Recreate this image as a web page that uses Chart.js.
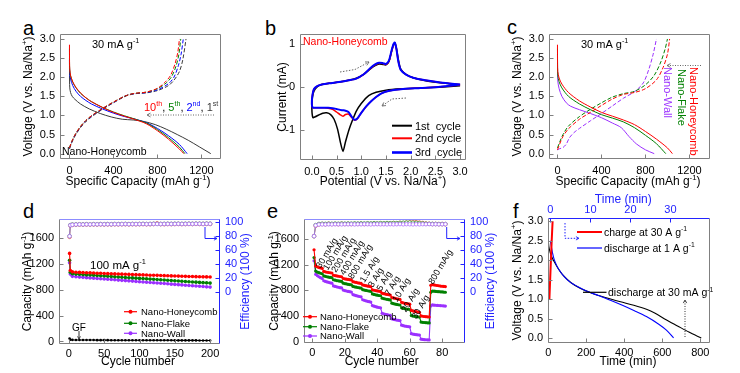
<!DOCTYPE html>
<html>
<head>
<meta charset="utf-8">
<title>Nano-Honeycomb sodium storage</title>
<script src="https://cdn.jsdelivr.net/npm/chart.js@4.4.1/dist/chart.umd.min.js"></script>
<style>
  body { margin: 0; width: 740px; height: 373px; background: #fff; position: relative; overflow: hidden; }
  canvas { position: absolute; }
  .tag { position: absolute; font: 20px 'Liberation Sans', Arial, sans-serif; line-height: 20px; color: #000; }
</style>
</head>
<body>
<div class="tag" style="left:23px;top:18px">a</div>
<div class="tag" style="left:265px;top:18px">b</div>
<div class="tag" style="left:507px;top:17px">c</div>
<div class="tag" style="left:23px;top:201px">d</div>
<div class="tag" style="left:267px;top:201px">e</div>
<div class="tag" style="left:513px;top:201px">f</div>
<canvas id="pa"></canvas>
<canvas id="pb"></canvas>
<canvas id="pc"></canvas>
<canvas id="pd"></canvas>
<canvas id="pe"></canvas>
<canvas id="pf"></canvas>
<script>
// ---------- panel a : Nano-Honeycomb, cycles 1/2/5/10 at 30 mA/g ----------
const aXTicks = [0, 400, 800, 1200];
const aYTicks = [0, 0.5, 1, 1.5, 2, 2.5, 3];
const aDis1Cap = [0, 1, 3, 10, 25, 50, 100, 180, 280, 380, 480, 580, 680, 780, 880, 980, 1080, 1180, 1285];
const aDis1V = [2.5, 1.9, 1.72, 1.6, 1.5, 1.42, 1.3, 1.17, 1.05, 0.96, 0.9, 0.88, 0.84, 0.76, 0.64, 0.5, 0.35, 0.18, 0.0];
const aDis2Cap = [0, 1, 3, 10, 30, 60, 100, 150, 200, 300, 400, 500, 600, 700, 800, 900, 1000, 1070];
const aDis2V = [2.45, 2.2, 2.08, 1.95, 1.78, 1.63, 1.5, 1.39, 1.3, 1.17, 1.06, 0.97, 0.9, 0.81, 0.66, 0.47, 0.24, 0.0];
const aDis5Cap = [0, 1, 3, 10, 30, 60, 100, 150, 200, 300, 400, 500, 600, 700, 800, 900, 1000, 1050];
const aDis5V = [2.75, 2.3, 2.17, 2.03, 1.87, 1.72, 1.58, 1.46, 1.36, 1.21, 1.09, 0.99, 0.9, 0.8, 0.63, 0.42, 0.17, 0.0];
const aDis10Cap = [0, 1, 3, 10, 30, 60, 100, 150, 200, 300, 400, 500, 600, 700, 800, 900, 1000, 1040];
const aDis10V = [2.85, 2.35, 2.2, 2.05, 1.88, 1.73, 1.59, 1.46, 1.36, 1.21, 1.08, 0.98, 0.89, 0.78, 0.6, 0.38, 0.12, 0.0];
const aChg1Cap = [0, 20, 50, 100, 150, 200, 300, 400, 500, 550, 600, 700, 800, 900, 950, 1000, 1030, 1060];
const aChg1V = [0.12, 0.28, 0.46, 0.68, 0.84, 0.96, 1.16, 1.33, 1.49, 1.54, 1.57, 1.59, 1.65, 1.78, 1.92, 2.15, 2.45, 3.0];
const aChg2Cap = [0, 20, 50, 100, 150, 200, 300, 400, 500, 550, 600, 700, 800, 900, 950, 990, 1015, 1035];
const aChg2V = [0.14, 0.3, 0.48, 0.7, 0.86, 0.98, 1.17, 1.34, 1.5, 1.55, 1.57, 1.6, 1.67, 1.83, 2.0, 2.3, 2.6, 3.0];
const aChg5Cap = [0, 20, 50, 100, 150, 200, 300, 400, 500, 550, 600, 700, 800, 880, 930, 970, 995, 1012];
const aChg5V = [0.15, 0.31, 0.49, 0.71, 0.87, 0.99, 1.18, 1.35, 1.5, 1.55, 1.58, 1.61, 1.7, 1.85, 2.02, 2.3, 2.6, 3.0];
const aChg10Cap = [0, 20, 50, 100, 150, 200, 300, 400, 500, 550, 600, 700, 800, 870, 920, 960, 985, 1000];
const aChg10V = [0.15, 0.31, 0.49, 0.71, 0.87, 0.99, 1.18, 1.35, 1.5, 1.55, 1.58, 1.61, 1.71, 1.87, 2.05, 2.35, 2.65, 3.0];

// ---------- panel b : CV of Nano-Honeycomb ----------
const bXTicks = [0, 0.5, 1, 1.5, 2, 2.5, 3];
const bYTicks = [-1, 0, 1];
const bCyc1V = [3.0, 2.6, 2.2, 1.8, 1.5, 1.3, 1.15, 1.0, 0.9, 0.82, 0.75, 0.68, 0.63, 0.58, 0.52, 0.45, 0.38, 0.3, 0.22, 0.14, 0.07, 0.02, 0.0, 0.01, 0.04, 0.1, 0.2, 0.35, 0.55, 0.75, 0.9, 1.05, 1.18, 1.28, 1.36, 1.44, 1.5, 1.56, 1.61, 1.65, 1.68, 1.71, 1.75, 1.8, 1.9, 2.05, 2.3, 2.6, 3.0];
const bCyc1I = [0.03, 0.0, -0.02, -0.04, -0.07, -0.12, -0.2, -0.38, -0.56, -0.78, -1.0, -1.28, -1.5, -1.3, -0.98, -0.75, -0.64, -0.6, -0.61, -0.65, -0.69, -0.71, -0.5, -0.25, -0.1, 0.0, 0.06, 0.09, 0.12, 0.16, 0.21, 0.3, 0.42, 0.5, 0.54, 0.53, 0.52, 0.6, 0.82, 0.98, 1.03, 0.92, 0.65, 0.42, 0.3, 0.22, 0.15, 0.1, 0.05];
const bCyc2V = [3.0, 2.6, 2.2, 1.8, 1.55, 1.4, 1.3, 1.2, 1.1, 1.0, 0.92, 0.86, 0.8, 0.74, 0.68, 0.63, 0.57, 0.5, 0.42, 0.33, 0.25, 0.15, 0.07, 0.02, 0.0, 0.01, 0.04, 0.1, 0.2, 0.35, 0.55, 0.75, 0.9, 1.05, 1.18, 1.28, 1.36, 1.44, 1.5, 1.56, 1.61, 1.65, 1.68, 1.71, 1.75, 1.8, 1.9, 2.05, 2.3, 2.6, 3.0];
const bCyc2I = [0.05, 0.01, -0.02, -0.05, -0.09, -0.15, -0.23, -0.33, -0.45, -0.6, -0.74, -0.77, -0.7, -0.63, -0.64, -0.68, -0.64, -0.58, -0.52, -0.49, -0.48, -0.48, -0.48, -0.48, -0.4, -0.2, -0.05, 0.02, 0.06, 0.09, 0.12, 0.16, 0.2, 0.3, 0.43, 0.52, 0.56, 0.55, 0.53, 0.6, 0.82, 0.98, 1.02, 0.9, 0.6, 0.4, 0.3, 0.22, 0.16, 0.11, 0.06];
const bCyc3V = [3.0, 2.6, 2.2, 1.8, 1.55, 1.4, 1.3, 1.2, 1.1, 1.0, 0.92, 0.86, 0.8, 0.74, 0.68, 0.63, 0.57, 0.5, 0.42, 0.33, 0.25, 0.15, 0.07, 0.02, 0.0, 0.01, 0.04, 0.1, 0.2, 0.35, 0.55, 0.75, 0.9, 1.05, 1.18, 1.28, 1.36, 1.44, 1.5, 1.56, 1.61, 1.65, 1.68, 1.71, 1.75, 1.8, 1.9, 2.05, 2.3, 2.6, 3.0];
const bCyc3I = [0.06, 0.01, -0.02, -0.05, -0.09, -0.15, -0.23, -0.33, -0.45, -0.6, -0.73, -0.76, -0.68, -0.58, -0.55, -0.54, -0.53, -0.51, -0.49, -0.48, -0.48, -0.48, -0.48, -0.48, -0.4, -0.2, -0.05, 0.02, 0.06, 0.09, 0.12, 0.16, 0.2, 0.3, 0.44, 0.53, 0.57, 0.56, 0.54, 0.62, 0.84, 1.0, 1.04, 0.9, 0.6, 0.4, 0.3, 0.22, 0.16, 0.11, 0.06];

// ---------- panel c : three morphologies at 30 mA/g ----------
const cDisHoneyCap = [0, 1, 3, 15, 40, 100, 200, 300, 400, 500, 600, 700, 800, 900, 1000, 1045];
const cDisHoneyV = [2.85, 2.35, 2.15, 1.98, 1.82, 1.6, 1.38, 1.22, 1.08, 0.98, 0.88, 0.76, 0.58, 0.38, 0.15, 0.0];
const cDisFlakeCap = [0, 1, 3, 15, 40, 100, 200, 300, 400, 500, 600, 700, 800, 900, 985];
const cDisFlakeV = [2.75, 2.25, 2.05, 1.88, 1.72, 1.5, 1.3, 1.15, 1.02, 0.93, 0.83, 0.68, 0.48, 0.26, 0.0];
const cDisWallCap = [0, 1, 3, 15, 40, 80, 120, 200, 300, 400, 500, 580, 650, 720, 800, 880];
const cDisWallV = [2.6, 2.1, 1.9, 1.7, 1.5, 1.33, 1.24, 1.15, 1.05, 0.94, 0.8, 0.68, 0.45, 0.25, 0.1, 0.0];
const cChgHoneyCap = [0, 20, 50, 100, 200, 300, 400, 500, 600, 700, 800, 900, 960, 1000, 1020];
const cChgHoneyV = [0.1, 0.25, 0.45, 0.65, 0.9, 1.08, 1.26, 1.43, 1.55, 1.6, 1.7, 1.93, 2.25, 2.6, 3.0];
const cChgFlakeCap = [0, 20, 50, 100, 200, 300, 400, 500, 600, 700, 800, 880, 940, 980, 1000];
const cChgFlakeV = [0.15, 0.3, 0.5, 0.72, 0.97, 1.16, 1.33, 1.48, 1.57, 1.63, 1.8, 2.05, 2.4, 2.75, 3.0];
const cChgWallCap = [0, 20, 50, 80, 110, 150, 200, 300, 400, 500, 600, 700, 780, 830, 870, 900];
const cChgWallV = [0.1, 0.13, 0.16, 0.25, 0.42, 0.55, 0.66, 0.86, 1.05, 1.25, 1.45, 1.62, 1.85, 2.2, 2.6, 3.0];

// ---------- panel d : cycling at 100 mA/g ----------
const dXTicks = [0, 50, 100, 150, 200];
const capTicks = [0, 400, 800, 1200, 1600];
const effTicks = [0, 20, 40, 60, 80, 100];
const dCycles = [1, 2, 5, 10, 15, 20, 25, 30, 35, 40, 45, 50, 55, 60, 65, 70, 75, 80, 85, 90, 95, 100, 105, 110, 115, 120, 125, 130, 135, 140, 145, 150, 155, 160, 165, 170, 175, 180, 185, 190, 195, 200];
const dHoney = [1366, 1100, 1080, 1074, 1071, 1068, 1066, 1064, 1061, 1059, 1057, 1054, 1052, 1050, 1048, 1046, 1044, 1042, 1040, 1038, 1036, 1034, 1032, 1030, 1028, 1026, 1025, 1023, 1021, 1019, 1017, 1015, 1014, 1012, 1010, 1008, 1007, 1005, 1004, 1002, 1001, 999];
const dFlake = [1260, 1075, 1050, 1045, 1041, 1037, 1033, 1030, 1026, 1022, 1019, 1015, 1011, 1008, 1004, 1000, 997, 993, 989, 986, 982, 978, 975, 971, 967, 964, 960, 956, 953, 949, 945, 942, 938, 934, 931, 927, 923, 920, 916, 912, 909, 905];
const dWall = [1219, 1045, 1010, 1003, 998, 994, 990, 986, 982, 977, 973, 969, 965, 961, 957, 952, 948, 944, 940, 936, 931, 927, 923, 919, 915, 910, 906, 902, 898, 894, 889, 885, 881, 877, 873, 868, 864, 860, 856, 852, 847, 843];
const dEffHoney = [79, 95.5, 96.3, 96.6, 96.8, 96.7, 96.9, 96.8, 97.0, 96.9, 97.1, 97.0, 97.1, 97.0, 97.2, 97.1, 97.2, 97.3, 97.1, 97.3, 97.2, 97.3, 97.4, 97.2, 97.3, 97.5, 98.6, 97.4, 97.3, 97.5, 97.4, 97.5, 97.6, 97.4, 97.5, 97.6, 97.5, 97.7, 97.6, 97.5, 97.7, 97.6];
const dEffFlake = [80, 96.0, 96.8, 97.0, 97.2, 97.1, 97.3, 97.2, 97.4, 97.3, 97.5, 97.4, 97.5, 97.4, 97.6, 97.5, 97.6, 97.7, 97.5, 97.7, 97.6, 97.7, 97.8, 97.6, 97.7, 97.9, 97.8, 97.7, 97.8, 97.9, 97.8, 97.9, 98.0, 97.8, 97.9, 98.0, 97.9, 98.1, 98.0, 97.9, 98.1, 98.0];
const dEffWall = [80, 95.8, 96.5, 96.8, 97.0, 96.9, 97.1, 97.0, 97.2, 97.1, 97.3, 97.2, 97.3, 97.2, 97.4, 97.3, 97.4, 97.5, 97.3, 97.5, 97.4, 97.5, 97.6, 97.4, 97.5, 97.7, 97.6, 97.5, 97.6, 97.7, 97.6, 97.7, 97.8, 97.6, 97.7, 97.8, 97.7, 97.9, 97.8, 97.7, 97.9, 97.8];
const dGF = [45, 28, 25, 24, 23, 23, 22, 22, 22, 21, 21, 21, 21, 20, 20, 20, 20, 20, 19, 19, 19, 19, 19, 19, 18, 18, 18, 18, 18, 18, 18, 17, 17, 17, 17, 17, 17, 17, 16, 16, 16, 16];

// ---------- panel e : rate capability ----------
const eXTicks = [0, 20, 40, 60, 80];
const eCycles = [1, 2, 3, 4, 5, 6, 7, 8, 9, 10, 11, 12, 13, 14, 15, 16, 17, 18, 19, 20, 21, 22, 23, 24, 25, 26, 27, 28, 29, 30, 31, 32, 33, 34, 35, 36, 37, 38, 39, 40, 41, 42, 43, 44, 45, 46, 47, 48, 49, 50, 51, 52, 53, 54, 55, 56, 57, 58, 59, 60, 61, 62, 63, 64, 65, 66, 67, 68, 69, 70, 71, 72, 73, 74, 75, 76, 77, 78, 79, 80, 81, 82];
const eHoney = [1430, 1180, 1165, 1155, 1148, 1142, 1095, 1088, 1082, 1078, 1074, 1070, 1035, 1030, 1025, 1020, 1016, 1012, 985, 980, 975, 970, 966, 962, 935, 930, 924, 918, 913, 908, 885, 879, 873, 868, 863, 858, 810, 803, 797, 792, 787, 782, 755, 749, 743, 738, 733, 728, 690, 683, 677, 671, 666, 661, 615, 608, 601, 596, 591, 587, 490, 482, 475, 470, 465, 461, 405, 400, 396, 393, 390, 388, 880, 890, 885, 880, 876, 872, 868, 865, 862, 860];
const eFlake = [1310, 1100, 1085, 1075, 1066, 1058, 1025, 1018, 1012, 1006, 1001, 997, 965, 959, 953, 948, 944, 940, 912, 906, 900, 895, 891, 887, 862, 856, 850, 845, 840, 836, 812, 806, 800, 795, 790, 786, 745, 738, 731, 726, 721, 717, 680, 673, 667, 662, 657, 653, 602, 595, 588, 583, 578, 574, 530, 523, 517, 512, 508, 504, 410, 403, 398, 394, 391, 388, 310, 306, 303, 300, 298, 296, 770, 790, 788, 785, 782, 780, 778, 776, 774, 772];
const eWall = [1260, 1050, 1030, 1012, 998, 985, 950, 940, 932, 925, 918, 912, 870, 862, 855, 849, 843, 838, 805, 798, 791, 785, 780, 775, 735, 727, 719, 712, 706, 700, 655, 646, 638, 631, 625, 620, 565, 556, 548, 541, 535, 530, 445, 437, 430, 424, 419, 415, 360, 352, 346, 341, 337, 333, 262, 254, 248, 243, 239, 236, 130, 123, 118, 114, 111, 109, 45, 40, 37, 35, 34, 33, 560, 575, 572, 570, 568, 566, 564, 562, 560, 558];
const eEffCycles = [1, 2, 4, 6, 8, 10, 12, 14, 16, 18, 20, 22, 24, 26, 28, 30, 32, 34, 36, 38, 40, 42, 44, 46, 48, 50, 52, 54, 56, 58, 60, 62, 64, 66, 68, 70, 72, 74, 76, 78, 80, 82];
const eEffHoney = [80, 95, 97, 97.5, 97.2, 97.8, 97.4, 97.6, 97.3, 97.9, 97.5, 97.7, 97.4, 97.8, 97.6, 98.0, 97.5, 97.9, 97.7, 98.2, 97.8, 98.3, 98.0, 98.5, 98.2, 98.8, 98.4, 99.2, 98.8, 99.5, 99.8, 100.5, 100.2, 99.6, 99.0, 98.2, 97.8, 97.5, 97.6, 97.4, 97.5, 97.3];
const eEffFlake = [80, 96, 97.6, 97.9, 97.7, 98.0, 97.8, 98.1, 97.9, 98.2, 98.0, 98.3, 98.1, 98.4, 98.2, 98.5, 98.3, 98.6, 98.4, 98.7, 98.5, 98.8, 98.6, 98.9, 98.7, 99.0, 98.8, 99.1, 99.4, 99.6, 99.8, 99.5, 99.3, 98.8, 98.5, 98.0, 97.8, 97.7, 97.6, 97.5, 97.5, 97.4];
const eEffWall = [80, 95.5, 96.8, 97.0, 96.9, 97.1, 97.0, 97.2, 97.1, 97.0, 97.2, 97.1, 97.3, 97.0, 97.2, 97.1, 97.3, 97.2, 97.0, 97.2, 97.3, 97.1, 97.2, 97.0, 97.3, 97.1, 97.2, 97.4, 97.1, 97.3, 97.2, 97.0, 97.2, 97.1, 97.3, 97.2, 97.4, 97.2, 97.3, 97.1, 97.2, 97.3];
const eRateLabels = ['30 mA/g', '100 mA/g', '200 mA/g', '400 mA/g', '800 mA/g', '1.5 A/g', '3 A/g', '5 A/g', '7 A/g', '10 A/g', '20 A/g', '30 A/g', '800 mA/g'];

// ---------- panel f : fast charge / discharge ----------
const fXTicks = [0, 200, 400, 600, 800];
const fTopTicks = [0, 10, 20, 30];
const fSlowMin = [0, 1, 5, 15, 30, 50, 80, 120, 170, 230, 300, 380, 450, 520, 560, 620, 680, 740, 805];
const fSlowV = [2.75, 2.45, 2.3, 2.12, 1.97, 1.8, 1.6, 1.42, 1.27, 1.15, 1.04, 0.93, 0.84, 0.73, 0.64, 0.47, 0.31, 0.15, 0.0];
const fFastMin = [0, 0.5, 1, 2, 3.5, 5, 7, 9, 12, 15, 18, 21, 24, 27, 29, 30.8];
const fFastV = [2.5, 2.2, 2.0, 1.78, 1.57, 1.43, 1.31, 1.21, 1.09, 0.97, 0.84, 0.7, 0.55, 0.36, 0.2, 0.0];
const fChargeMin = [-0.25, 0.05, 0.3, 0.55];
const fChargeV = [1.0, 1.8, 2.45, 3.0];

// ---------- styling ----------
const FONT = "'Liberation Sans', 'DejaVu Sans', Arial, sans-serif";
const TICK_FONT = "'Liberation Sans Narrow', 'Liberation Sans', Arial, sans-serif";
const RED = '#ff0000', GREEN = '#008000', BLUE = '#0000ff', PURPLE = '#9b30ff', DARK = '#3a3a3a';
const AXBLUE = '#2323ff', FRAME = '#808080', ARROW = '#666666';

function xy(xs, ys) {
  return xs.map((x, i) => ({ x: x, y: ys[i] }));
}

function curve(xs, ys, color, extra) {
  return Object.assign({
    data: xy(xs, ys),
    borderColor: color,
    backgroundColor: color,
    borderWidth: 1,
    pointRadius: 0,
    tension: 0.3,
    fill: false
  }, extra || {});
}

function dotted(xs, ys, color, extra) {
  return curve(xs, ys, color, Object.assign({ tension: 0, borderWidth: 1.1, pointRadius: 1.8, pointBorderWidth: 0 }, extra || {}));
}

function hollow(xs, ys, color, extra) {
  return curve(xs, ys, color, Object.assign({
    tension: 0, yAxisID: 'y2', borderWidth: 0.8, pointRadius: 1.8,
    pointBackgroundColor: '#ffffff', pointBorderColor: color, pointBorderWidth: 0.8
  }, extra || {}));
}

// fixed size axis so the plot area lands where the figure has it
function axis(pos, min, max, ticks, dec, size, color, pad) {
  const horiz = pos === 'top' || pos === 'bottom';
  return {
    type: 'linear',
    position: pos,
    min: min,
    max: max,
    afterBuildTicks: s => { s.ticks = ticks.map(v => ({ value: v })); },
    afterFit: s => { if (horiz) s.height = size; else s.width = size; },
    grid: { display: false, drawTicks: false },
    border: { display: false },
    title: { display: false },
    ticks: {
      color: color || '#000',
      padding: pad === undefined ? 5 : pad,
      autoSkip: false,
      maxRotation: 0,
      minRotation: 0,
      font: { family: TICK_FONT, size: 11 },
      callback: v => Number(v).toFixed(dec)
    }
  };
}

// ---------- annotation layer (frames, inner ticks, labels, arrows) ----------
const DECOR = {};

function richText(ctx, it, x, y) {
  const s = it.size || 11;
  ctx.save();
  ctx.translate(x, y);
  if (it.rot) ctx.rotate(it.rot * Math.PI / 180);
  const parts = it.parts;
  let w = 0;
  parts.forEach(p => {
    ctx.font = (p[2] ? s * 0.65 : s) + 'px ' + FONT;
    w += ctx.measureText(p[0]).width;
  });
  let cx = it.align === 'center' ? -w / 2 : (it.align === 'right' ? -w : 0);
  ctx.textAlign = 'left';
  ctx.textBaseline = 'alphabetic';
  parts.forEach(p => {
    ctx.font = (p[2] ? s * 0.65 : s) + 'px ' + FONT;
    ctx.fillStyle = p[1] || it.color || '#000';
    ctx.fillText(p[0], cx, p[2] ? -0.05 * s : 0.36 * s);
    cx += ctx.measureText(p[0]).width;
  });
  ctx.restore();
}

function polyline(ctx, it, pts) {
  ctx.save();
  ctx.strokeStyle = it.color || '#000';
  ctx.lineWidth = it.w || 1;
  ctx.setLineDash(it.dash || []);
  ctx.beginPath();
  pts.forEach((p, i) => i ? ctx.lineTo(p[0], p[1]) : ctx.moveTo(p[0], p[1]));
  ctx.stroke();
  if (it.head) {
    const n = pts.length;
    const a = Math.atan2(pts[n - 1][1] - pts[n - 2][1], pts[n - 1][0] - pts[n - 2][0]);
    const L = it.head, x2 = pts[n - 1][0], y2 = pts[n - 1][1];
    ctx.setLineDash([]);
    ctx.lineWidth = 0.9;
    ctx.beginPath();
    ctx.moveTo(x2 - L * Math.cos(a - 0.5), y2 - L * Math.sin(a - 0.5));
    ctx.lineTo(x2, y2);
    ctx.lineTo(x2 - L * Math.cos(a + 0.5), y2 - L * Math.sin(a + 0.5));
    ctx.stroke();
  }
  ctx.restore();
}

Chart.register({
  id: 'decor',
  afterDraw(chart) {
    const d = DECOR[chart.canvas.id];
    if (!d) return;
    const ctx = chart.ctx, a = chart.chartArea, f = d.frame;
    ctx.save();
    const seg = (x1, y1, x2, y2, c) => {
      ctx.strokeStyle = c; ctx.lineWidth = 1; ctx.setLineDash([]);
      ctx.beginPath(); ctx.moveTo(x1, y1); ctx.lineTo(x2, y2); ctx.stroke();
    };
    const L = a.left + 0.5, R = a.right - 0.5, T = a.top + 0.5, B = a.bottom - 0.5;
    seg(L, T, R, T, f.top); seg(L, B, R, B, f.bottom);
    seg(L, T, L, B, f.left); seg(R, T, R, B, f.right);
    Object.values(chart.scales).forEach(s => {
      const c = f[s.position];
      s.ticks.forEach(t => {
        const p = Math.round(s.getPixelForValue(t.value)) + 0.5;
        if (s.position === 'left') seg(L, p, L + 4, p, c);
        else if (s.position === 'right') seg(R, p, R - 4, p, c);
        else if (s.position === 'bottom') seg(p, B, p, B - 4, c);
        else seg(p, T, p, T + 4, c);
      });
    });
    ctx.translate(-d.ox, -d.oy);
    const toPage = (it, x, y) => it.dc
      ? [chart.scales[it.dc[0]].getPixelForValue(x) + d.ox, chart.scales[it.dc[1]].getPixelForValue(y) + d.oy]
      : [x, y];
    d.items.forEach(it => {
      if (it.k === 'text') {
        const p = toPage(it, it.x, it.y);
        richText(ctx, it, p[0], p[1]);
      } else if (it.k === 'path') {
        polyline(ctx, it, it.pts.map(q => toPage(it, q[0], q[1])));
      } else if (it.k === 'dot') {
        ctx.beginPath();
        ctx.arc(it.x, it.y, it.r, 0, Math.PI * 2);
        ctx.fillStyle = it.color;
        ctx.fill();
      }
    });
    ctx.restore();
  }
});

function frameAll(c) { return { top: c, bottom: c, left: c, right: c }; }

function legendRows(rows, x1, x2, tx, size, dot) {
  const out = [];
  rows.forEach(r => {
    out.push({ k: 'path', pts: [[x1, r[2]], [x2, r[2]]], color: r[0], w: r[3] || 1.2 });
    if (dot) out.push({ k: 'dot', x: (x1 + x2) / 2, y: r[2], r: dot, color: r[0] });
    out.push({ k: 'text', x: tx, y: r[2], size: size, parts: r[1] });
  });
  return out;
}

const VOLT_TITLE = [['Voltage (V vs. Na/Na'], ['+', null, 1], [')']];
const CAP_TITLE = [['Specific Capacity (mAh g'], ['-1', null, 1], [')']];
const CAPY_TITLE = [['Capacity (mAh g'], ['-1', null, 1], [')']];

DECOR.pa = {
  ox: 15, oy: 0, frame: frameAll(FRAME),
  items: [
    { k: 'text', x: 138, y: 181, size: 12, align: 'center', parts: CAP_TITLE },
    { k: 'text', x: 27.5, y: 96.5, size: 12, align: 'center', rot: -90, parts: VOLT_TITLE },
    { k: 'text', x: 92, y: 44, size: 11, parts: [['30 mA g'], ['-1', null, 1]] },
    { k: 'text', x: 62, y: 151, size: 10.5, parts: [['Nano-Honeycomb']] },
    { k: 'text', x: 144, y: 107, size: 11, parts: [['10', RED], ['th', RED, 1], [', '], ['5', GREEN], ['th', GREEN, 1], [', '], ['2', BLUE], ['nd', BLUE, 1], [', '], ['1', DARK], ['st', DARK, 1]] },
    { k: 'path', pts: [[214, 115], [147, 115]], color: ARROW, dash: [1, 1.5], head: 4 }
  ]
};

DECOR.pb = {
  ox: 265, oy: 0, frame: frameAll(FRAME),
  items: [
    { k: 'text', x: 383, y: 181, size: 12, align: 'center', parts: [['Potential (V vs. Na/Na'], ['+', null, 1], [')']] },
    { k: 'text', x: 281.7, y: 97, size: 12, align: 'center', rot: -90, parts: [['Current (mA)']] },
    { k: 'text', x: 303, y: 41.5, size: 10.5, parts: [['Nano-Honeycomb', RED]] },
    { k: 'path', pts: [[340, 72], [355, 69.5], [369, 62]], color: ARROW, dash: [1.5, 1.5], head: 4 },
    { k: 'path', pts: [[406, 98], [392, 99], [382, 106]], color: ARROW, dash: [1.5, 1.5], head: 4 }
  ].concat(legendRows([
    ['#000', [['1st  cycle']], 125.7, 2],
    [RED, [['2nd cycle']], 138.3, 2],
    [BLUE, [['3rd  cycle']], 152.5, 2.6]
  ], 392, 412, 415, 11, 0))
};

DECOR.pc = {
  ox: 500, oy: 0, frame: frameAll(FRAME),
  items: [
    { k: 'text', x: 628, y: 181, size: 12, align: 'center', parts: CAP_TITLE },
    { k: 'text', x: 516.7, y: 96.5, size: 12, align: 'center', rot: -90, parts: VOLT_TITLE },
    { k: 'text', x: 581, y: 44, size: 11, parts: [['30 mA g'], ['-1', null, 1]] },
    { k: 'text', x: 694, y: 67, size: 11, rot: 90, parts: [['Nano-Honeycomb', RED]] },
    { k: 'text', x: 681.5, y: 69, size: 11, rot: 90, parts: [['Nano-Flake', GREEN]] },
    { k: 'text', x: 668, y: 67, size: 11, rot: 90, parts: [['Nano-Wall', PURPLE]] },
    { k: 'path', pts: [[701, 65.5], [667, 65.5]], color: ARROW, dash: [1, 1.5], head: 4 }
  ]
};

DECOR.pd = {
  ox: 15, oy: 190, frame: { top: '#8c8cff', bottom: FRAME, left: FRAME, right: AXBLUE },
  items: [
    { k: 'text', x: 138, y: 361, size: 12, align: 'center', parts: [['Cycle number']] },
    { k: 'text', x: 26.7, y: 281.5, size: 12, align: 'center', rot: -90, parts: CAPY_TITLE },
    { k: 'text', x: 245, y: 281.5, size: 12, align: 'center', rot: -90, color: AXBLUE, parts: [['Efficiency (100 %)']] },
    { k: 'text', x: 90, y: 265, size: 11.5, parts: [['100 mA g'], ['-1', null, 1]] },
    { k: 'text', x: 79, y: 327, size: 10, align: 'center', parts: [['GF']] },
    { k: 'path', pts: [[79, 331], [79, 339]], color: '#333', head: 3 },
    { k: 'path', pts: [[205, 227], [205, 238.5], [217, 238.5]], color: AXBLUE, head: 3.5 }
  ].concat(legendRows([
    [RED, [['Nano-Honeycomb']], 311.7],
    [GREEN, [['Nano-Flake']], 323.3],
    [PURPLE, [['Nano-Wall']], 333.3]
  ], 124, 137, 141, 9.5, 2))
};

const eAnchorCycle = [3.3, 7.8, 12.9, 18.1, 23.2, 30.4, 35.5, 40.7, 45.8, 50.5, 56, 62.3, 72.6];
const eAnchorCap = [1160, 1130, 1095, 1055, 995, 940, 865, 810, 735, 640, 480, 375, 915];
DECOR.pe = {
  ox: 255, oy: 190, frame: { top: '#8c8cff', bottom: FRAME, left: FRAME, right: AXBLUE },
  items: [
    { k: 'text', x: 381.7, y: 361, size: 12, align: 'center', parts: [['Cycle number']] },
    { k: 'text', x: 273.3, y: 281, size: 12, align: 'center', rot: -90, parts: CAPY_TITLE },
    { k: 'text', x: 490, y: 281, size: 12, align: 'center', rot: -90, color: AXBLUE, parts: [['Efficiency (100 %)']] },
    { k: 'path', pts: [[446.7, 227], [446.7, 238.5], [460, 238.5]], color: AXBLUE, head: 3.5 }
  ].concat(eRateLabels.map((t, i) => ({
    k: 'text', dc: ['x', 'y'], x: eAnchorCycle[i], y: eAnchorCap[i], size: 9, rot: -59, parts: [[t]]
  }))).concat(legendRows([
    [RED, [['Nano-Honeycomb']], 316.7],
    [GREEN, [['Nano-Flake']], 326.7],
    [PURPLE, [['Nano-Wall']], 336]
  ], 303, 317, 320, 9.5, 2))
};

DECOR.pf = {
  ox: 500, oy: 190, frame: { top: AXBLUE, bottom: FRAME, left: FRAME, right: FRAME },
  items: [
    { k: 'text', x: 628, y: 361, size: 12, align: 'center', parts: [['Time (min)']] },
    { k: 'text', x: 623.3, y: 199, size: 12, align: 'center', color: AXBLUE, parts: [['Time (min)']] },
    { k: 'text', x: 516.7, y: 280.5, size: 12, align: 'center', rot: -90, parts: VOLT_TITLE },
    { k: 'path', pts: [[577, 232], [602, 232]], color: RED, w: 2 },
    { k: 'text', x: 604, y: 232, size: 10.5, parts: [['charge at 30 A g'], ['-1', null, 1]] },
    { k: 'path', pts: [[577, 248], [602, 248]], color: BLUE, w: 1.2 },
    { k: 'text', x: 604, y: 248, size: 10.5, parts: [['discharge at 1 A g'], ['-1', null, 1]] },
    { k: 'path', pts: [[583, 292.3], [606.5, 292.3]], color: '#000', w: 1.2 },
    { k: 'text', x: 608, y: 292.3, size: 10.5, parts: [['discharge at 30 mA g'], ['-1', null, 1]] },
    { k: 'path', pts: [[565, 223], [565, 238.3], [579, 238.3]], color: AXBLUE, dash: [1.5, 1.5], head: 3.5 },
    { k: 'path', pts: [[685, 337], [685, 300]], color: '#333', dash: [1, 1.5], head: 3.5 }
  ]
};

// ---------- charts ----------
function panel(id, cell, pad, scales, datasets) {
  const cv = document.getElementById(id);
  cv.width = cell.w;
  cv.height = cell.h;
  cv.style.left = cell.x + 'px';
  cv.style.top = cell.y + 'px';
  return new Chart(cv, {
    type: 'line',
    data: { datasets: datasets },
    options: {
      responsive: false,
      animation: false,
      devicePixelRatio: 1,
      events: [],
      layout: { padding: pad },
      plugins: { legend: { display: false }, tooltip: { enabled: false } },
      scales: scales
    }
  });
}

const DASH = [4, 2];

panel('pa', { x: 15, y: 0, w: 235, h: 190 }, { top: 34, right: 29, left: 0, bottom: 0 }, {
  x: axis('bottom', -86, 1378, aXTicks, 0, 31),
  y: axis('left', -0.14, 3.13, aYTicks, 1, 45)
}, [
  curve(aDis10Cap, aDis10V, RED),
  curve(aChg10Cap, aChg10V, RED, { borderDash: DASH }),
  curve(aDis5Cap, aDis5V, GREEN),
  curve(aChg5Cap, aChg5V, GREEN, { borderDash: DASH }),
  curve(aDis2Cap, aDis2V, BLUE),
  curve(aChg2Cap, aChg2V, BLUE, { borderDash: DASH }),
  curve(aDis1Cap, aDis1V, DARK),
  curve(aChg1Cap, aChg1V, DARK, { borderDash: DASH })
]);

panel('pb', { x: 265, y: 0, w: 230, h: 190 }, { top: 34, right: 29, left: 0, bottom: 0 }, {
  x: axis('bottom', -0.24, 3.12, bXTicks, 1, 30),
  y: axis('left', -1.70, 1.24, bYTicks, 0, 35)
}, [
  curve(bCyc3V, bCyc3I, BLUE, { borderWidth: 2, tension: 0.25 }),
  curve(bCyc2V, bCyc2I, RED, { borderWidth: 1.5, tension: 0.25 }),
  curve(bCyc1V, bCyc1I, '#000', { borderWidth: 1.5, tension: 0.25 })
]);

panel('pc', { x: 500, y: 0, w: 240, h: 190 }, { top: 34, right: 30, left: 0, bottom: 0 }, {
  x: axis('bottom', -77, 1387, aXTicks, 0, 31),
  y: axis('left', -0.14, 3.13, aYTicks, 1, 49)
}, [
  curve(cDisHoneyCap, cDisHoneyV, RED),
  curve(cChgHoneyCap, cChgHoneyV, RED, { borderDash: DASH }),
  curve(cDisFlakeCap, cDisFlakeV, GREEN),
  curve(cChgFlakeCap, cChgFlakeV, GREEN, { borderDash: DASH }),
  curve(cDisWallCap, cDisWallV, PURPLE),
  curve(cChgWallCap, cChgWallV, PURPLE, { borderDash: DASH })
]);

panel('pd', { x: 15, y: 190, w: 237, h: 183 }, { top: 29, right: 0, left: 0, bottom: 0 }, {
  x: axis('bottom', -14, 214, dXTicks, 0, 29, null, 3),
  y: axis('left', -39, 1899, capTicks, 0, 44),
  y2: axis('right', -75.4, 104.8, effTicks, 0, 32, AXBLUE)
}, [
  hollow(dCycles, dEffWall, '#b070ff'),
  hollow(dCycles, dEffFlake, '#3a9a3a'),
  hollow(dCycles, dEffHoney, '#ff5a5a'),
  dotted(dCycles, dHoney, RED),
  dotted(dCycles, dFlake, GREEN),
  dotted(dCycles, dWall, PURPLE),
  dotted(dCycles, dGF, '#000', { pointRadius: 1.3 })
]);

panel('pe', { x: 255, y: 190, w: 245, h: 183 }, { top: 29, right: 0, left: 0, bottom: 0 }, {
  x: axis('bottom', -5.2, 94.1, eXTicks, 0, 30, null, 3),
  y: axis('left', -15, 1907, capTicks, 0, 49),
  y2: axis('right', -73.9, 104.75, effTicks, 0, 35, AXBLUE)
}, [
  hollow(eEffCycles, eEffWall, '#b070ff'),
  hollow(eEffCycles, eEffFlake, '#3a9a3a'),
  hollow(eEffCycles, eEffHoney, '#ff5a5a'),
  dotted(eCycles, eHoney, RED, { pointRadius: 1.6 }),
  dotted(eCycles, eFlake, GREEN, { pointRadius: 1.6 }),
  dotted(eCycles, eWall, PURPLE, { pointRadius: 1.6 })
]);

panel('pf', { x: 500, y: 190, w: 240, h: 183 }, { top: 0, right: 30, left: 0, bottom: 0 }, {
  x: axis('bottom', -1.5, 851, fXTicks, 0, 30, null, 3),
  x2: axis('top', -0.6, 39.9, fTopTicks, 0, 28, AXBLUE, 1),
  y: axis('left', -0.13, 3.085, aYTicks, 1, 48)
}, [
  curve(fChargeMin, fChargeV, RED, { xAxisID: 'x2', borderWidth: 2, tension: 0 }),
  curve(fFastMin, fFastV, BLUE, { xAxisID: 'x2', borderWidth: 1.1 }),
  curve(fSlowMin, fSlowV, '#000', { borderWidth: 1.1 })
]);
</script>
</body>
</html>
